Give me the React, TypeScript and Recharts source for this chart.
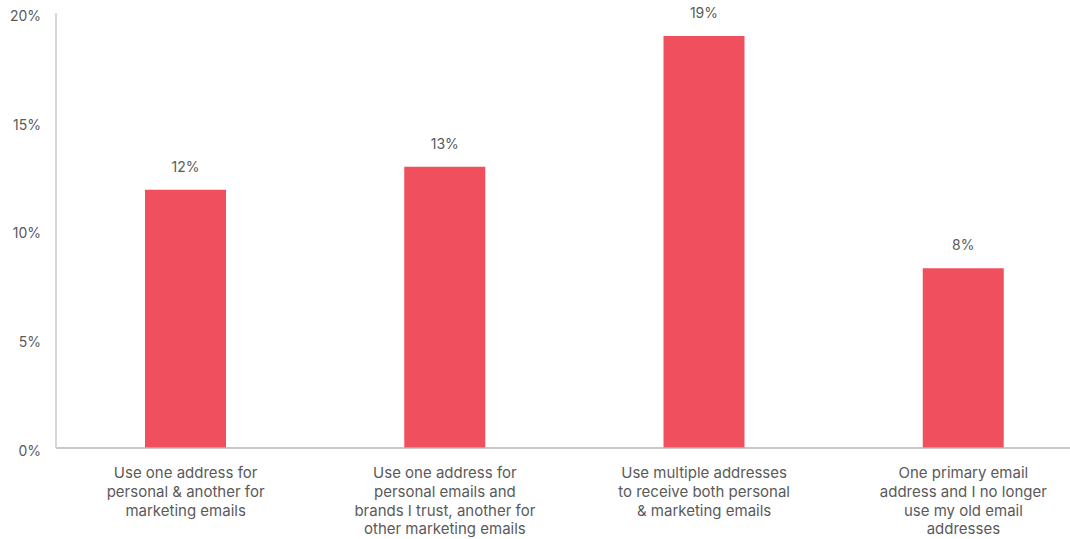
import { BarChart, Bar, XAxis, YAxis, LabelList } from "recharts"

const categories = [
  "Use one address for|personal & another for|marketing emails",
  "Use one address for|personal emails and|brands I trust, another for|other marketing emails",
  "Use multiple addresses|to receive both personal|& marketing emails",
  "One primary email|address and I no longer|use my old email|addresses",
]

const shares = [11.87, 12.93, 18.94, 8.27]

const yTicks = [0, 5, 10, 15, 20]

const data = categories.map((name, i) => ({ name, value: shares[i] }))

const FONT = "Inter, 'DejaVu Sans', sans-serif"
const TEXT = "#5a5a5a"
const BAR = "#F0505E"

const CategoryTick = ({ x, y, payload }: any) => {
  const lines = String(payload.value).split("|")
  return (
    <text x={x} y={y} textAnchor="middle" fill={TEXT} fontSize={15} fontFamily={FONT}>
      {lines.map((line, i) => (
        <tspan key={i} x={x} dy={i === 0 ? 22 : 18.8}>
          {line}
        </tspan>
      ))}
    </text>
  )
}

const ValueLabel = ({ x, y, width, value }: any) => (
  <text
    x={x + width / 2}
    y={y - 18}
    textAnchor="middle"
    fill={TEXT}
    fontSize={14}
    fontFamily={FONT}
  >
    {Math.round(value)}%
  </text>
)

export default function App() {
  return (
    <div
      style={{
        position: "fixed",
        left: 0,
        top: 0,
        width: 1070,
        height: 539,
        overflow: "hidden",
        background: "#fff",
      }}
    >
      <BarChart
        width={1100}
        height={539}
        data={data}
        margin={{ top: 13, right: 7, bottom: 0, left: 0 }}
      >
        <XAxis
          dataKey="name"
          interval={0}
          tickLine={false}
          axisLine={{ stroke: "#b5b5b5", strokeWidth: 1.5 }}
          tick={<CategoryTick />}
          height={91}
        />
        <YAxis
          domain={[0, 20]}
          ticks={yTicks}
          width={56}
          tickLine={false}
          tickSize={0}
          tickMargin={15}
          axisLine={{ stroke: "#cccccc", strokeWidth: 1.5 }}
          tickFormatter={(v) => `${v}%`}
          tick={{ fill: TEXT, fontSize: 14, fontFamily: FONT, dy: 3 }}
        />
        <Bar dataKey="value" fill={BAR} barSize={81} isAnimationActive={false}>
          <LabelList dataKey="value" content={<ValueLabel />} />
        </Bar>
      </BarChart>
    </div>
  )
}
